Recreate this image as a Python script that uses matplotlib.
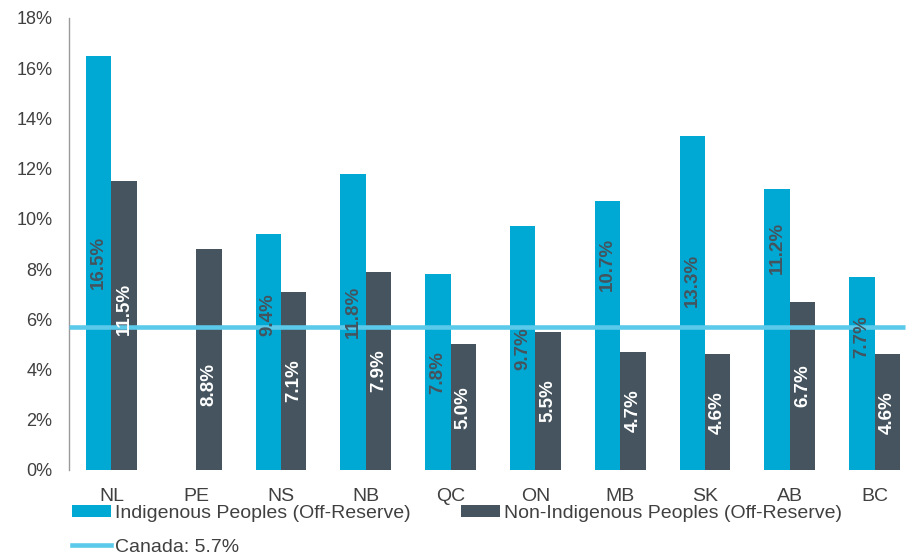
import matplotlib.pyplot as plt
import numpy as np

plt.rcParams['font.family'] = ['Liberation Sans', 'DejaVu Sans']

provinces = ['NL', 'PE', 'NS', 'NB', 'QC', 'ON', 'MB', 'SK', 'AB', 'BC']
indigenous = [16.5, np.nan, 9.4, 11.8, 7.8, 9.7, 10.7, 13.3, 11.2, 7.7]
non_indigenous = [11.5, 8.8, 7.1, 7.9, 5.0, 5.5, 4.7, 4.6, 6.7, 4.6]
canada = 5.7

# where each value label sits (None = middle of the bar)
indig_lab_y = [None, None, 6.2, 6.3, None, None, 8.2, 7.55, 8.85, 5.33]
non_lab_y = [6.43, 3.42, None, None, None, None, None, None, None, None]

c_ind = '#00A9D3'
c_non = '#45545E'
c_line = '#5BC9E9'
c_txt = '#404040'

fig = plt.figure(figsize=(9.09, 5.58), dpi=100)
ax = fig.add_axes([69/909, 88/558, 848/909, 452/558])

x = np.arange(len(provinces))
w = 0.3
b1 = ax.bar(x - w/2, indigenous, w, color=c_ind, zorder=2)
b2 = ax.bar(x + w/2, non_indigenous, w, color=c_non, zorder=2)

ax.hlines(canada, -0.5, 9.36, color=c_line, lw=3.3, zorder=3)

for i in range(len(provinces)):
    v = indigenous[i]
    if not np.isnan(v):
        yy = indig_lab_y[i] if indig_lab_y[i] is not None else v / 2
        ax.text(x[i] - w/2, yy, f'{v:.1f}%', rotation=90, ha='center', va='center',
                fontsize=13.5, fontweight='bold', color=c_non, zorder=4)
    v = non_indigenous[i]
    yy = non_lab_y[i] if non_lab_y[i] is not None else v / 2
    ax.text(x[i] + w/2, yy, f'{v:.1f}%', rotation=90, ha='center', va='center',
            fontsize=13.5, fontweight='bold', color='white', zorder=4)

ax.set_xlim(-0.5, 9.5)
ax.set_ylim(0, 18)
ax.set_yticks(np.arange(0, 19, 2))
ax.set_yticklabels([f'{t}%' for t in range(0, 19, 2)])
ax.set_xticks(x)
ax.set_xticklabels(provinces)
ax.tick_params(axis='both', length=0, colors=c_txt)
ax.tick_params(axis='y', pad=12, labelsize=13)
ax.tick_params(axis='x', pad=13, labelsize=14)

for s in ['top', 'right', 'bottom']:
    ax.spines[s].set_visible(False)
ax.spines['left'].set_color('#9A9A9A')
ax.spines['left'].set_linewidth(1)

# legend: two bar entries on the first row, the line underneath
line_h = plt.Line2D([], [], color=c_line, lw=3.3)
handles = [b1, line_h, b2]
labels = ['Indigenous Peoples (Off-Reserve)', 'Canada: 5.7%',
          'Non-Indigenous Peoples (Off-Reserve)']
fig.legend(handles, labels, loc='upper left', bbox_to_anchor=(72/909, 1 - 505/558),
           ncol=2, frameon=False, fontsize=14, handlelength=2.0, handleheight=0.57,
           handletextpad=0.2, columnspacing=2.6, labelspacing=0.85, borderpad=0,
           borderaxespad=0, labelcolor=c_txt)

fig.savefig('out.png', dpi=100)
